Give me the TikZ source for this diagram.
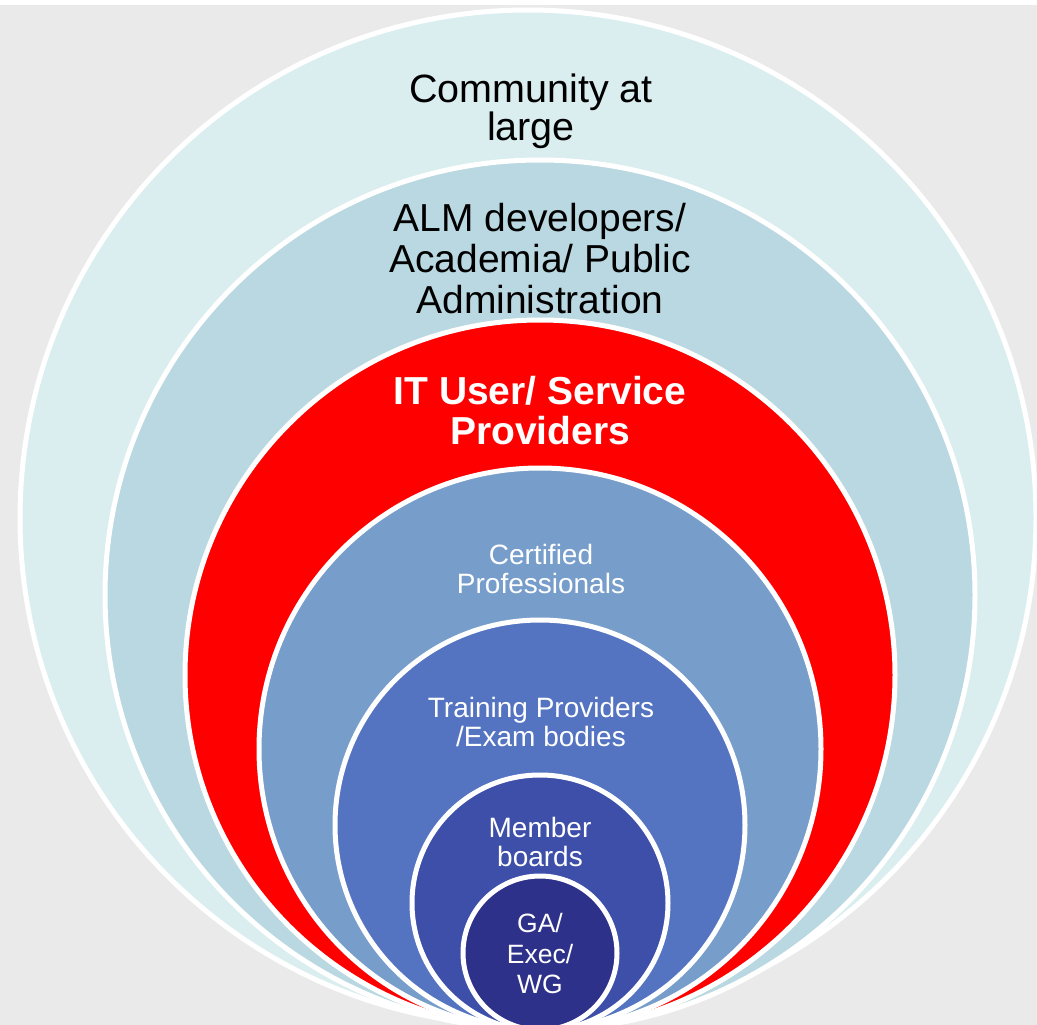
\documentclass[tikz,border=0pt]{standalone}
\usepackage{fontspec}
\setmainfont{Liberation Sans}
\definecolor{bggray}{HTML}{EAEAEA}
\definecolor{cOuter}{HTML}{DAEDEF}
\definecolor{cAlm}{HTML}{BAD8E1}
\definecolor{cRed}{HTML}{FF0000}
\definecolor{cCert}{HTML}{779DCB}
\definecolor{cTrain}{HTML}{5474C1}
\definecolor{cMember}{HTML}{3D4FA9}
\definecolor{cGa}{HTML}{2E3189}
\begin{document}
\begin{tikzpicture}[x=1pt,y=-1pt,
  ring/.style={draw=white,line width=5pt},
  biglbl/.style={align=center,inner sep=0pt,font=\fontsize{39.5}{38}\selectfont},
  smalllbl/.style={align=center,inner sep=0pt,text=white,font=\fontsize{28}{29}\selectfont}]
\useasboundingbox (0,0) rectangle (1037,1025);
\fill[white] (0,0) rectangle (1037,1025);
\fill[bggray] (0,5) rectangle (1037,1025);
\begin{scope}
\clip (0,0) rectangle (1037,1025);
\path[ring,fill=cOuter] (528,518) circle (508);
\path[ring,fill=cAlm] (540,595) circle (435);
\path[ring,fill=cRed] (540,675) circle (355);
\path[ring,fill=cCert] (540,749) circle (281);
\path[ring,fill=cTrain] (540,825) circle (205);
\path[ring,fill=cMember] (540,903) circle (128);
\path[ring,fill=cGa] (540,953) circle (77);
\end{scope}
\node[biglbl] (community) at (531,111) {Community at\\large};
\node[biglbl,font=\fontsize{39}{41}\selectfont] (alm) at (540,259) {ALM developers/\\Academia/ Public\\Administration};
\node[biglbl,text=white,font=\fontsize{39}{40}\selectfont\bfseries] (itusers) at (540,411) {IT User/ Service\\Providers};
\node[smalllbl] (cert) at (541,569) {Certified\\Professionals};
\node[smalllbl] (train) at (541,722) {Training Providers\\/Exam bodies};
\node[smalllbl] (member) at (540,842) {Member\\boards};
\node[smalllbl,font=\fontsize{26.5}{30.5}\selectfont] (ga) at (540,954) {GA/\\Exec/\\WG};
\end{tikzpicture}
\end{document}
